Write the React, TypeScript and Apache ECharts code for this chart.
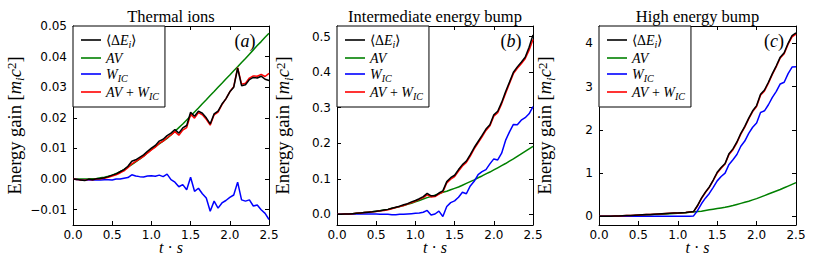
import React, { useEffect, useRef } from 'react';
import * as echarts from 'echarts';

// time grid (t·s)
const T = [0, 0.05, 0.1, 0.15, 0.2, 0.25, 0.3, 0.35, 0.4, 0.45,
  0.5, 0.55, 0.6, 0.65, 0.7, 0.75, 0.8, 0.85, 0.9, 0.95,
  1.0, 1.05, 1.1, 1.15, 1.2, 1.25, 1.3, 1.35, 1.4, 1.45,
  1.5, 1.55, 1.6, 1.65, 1.7, 1.75, 1.8, 1.85, 1.9, 1.95,
  2.0, 2.05, 2.1, 2.15, 2.2, 2.25, 2.3, 2.35, 2.4, 2.45, 2.5];

// (a) Thermal ions
const aMean = [0.0000, -0.0001, -0.0003, -0.0005, 0.0000, -0.0002, 0.0001, 0.0002, 0.0004, 0.0008,
  0.0013, 0.0017, 0.0024, 0.0031, 0.0042, 0.0058, 0.0063, 0.0071, 0.0079, 0.0091,
  0.0101, 0.0110, 0.0124, 0.0130, 0.0142, 0.0150, 0.0162, 0.0150, 0.0167, 0.0175,
  0.0218, 0.0205, 0.0222, 0.0215, 0.0200, 0.0180, 0.0213, 0.0222, 0.0245, 0.0262,
  0.0285, 0.0300, 0.0362, 0.0305, 0.0308, 0.0325, 0.0332, 0.0330, 0.0336, 0.0326, 0.0322];
const aAV = [0, 0, 0, 0, 0, 0.0001, 0.0002, 0.0004, 0.0006, 0.0009,
  0.0013, 0.0018, 0.0024, 0.0031, 0.0039, 0.0047, 0.0056, 0.0065, 0.0075, 0.0086,
  0.0097, 0.0106, 0.0115, 0.0124, 0.0133, 0.0144, 0.0156, 0.0168, 0.0180, 0.0193,
  0.0206, 0.0219, 0.0232, 0.0246, 0.0259, 0.0273, 0.0286, 0.0300, 0.0313, 0.0327,
  0.0340, 0.0354, 0.0367, 0.0381, 0.0394, 0.0408, 0.0422, 0.0436, 0.0449, 0.0463, 0.0476];
const aWIC = [0, -0.0001, -0.0003, -0.0004, -0.0002, -0.0003, -0.0002, -0.0003, -0.0002, -0.0002,
  -0.0003, 0.0000, 0.0000, 0.0003, 0.0005, 0.0014, 0.0010, 0.0008, 0.0007, 0.0010,
  0.0011, 0.0009, 0.0013, 0.0008, 0.0016, -0.0002, -0.0010, -0.0025, -0.0018, -0.0035,
  0.0006, -0.0040, -0.0030, -0.0048, -0.0062, -0.0105, -0.0072, -0.0095, -0.0078, -0.0070,
  -0.0060, -0.0052, -0.0010, -0.0068, -0.0072, -0.0068, -0.0088, -0.0085, -0.0100, -0.0112, -0.0132];
const aSum = [0.0000, -0.0001, -0.0003, -0.0004, -0.0001, -0.0002, 0.0000, 0.0001, 0.0003, 0.0006,
  0.0010, 0.0014, 0.0020, 0.0027, 0.0037, 0.0050, 0.0058, 0.0066, 0.0074, 0.0085,
  0.0095, 0.0104, 0.0117, 0.0124, 0.0135, 0.0144, 0.0155, 0.0143, 0.0160, 0.0168,
  0.0212, 0.0199, 0.0217, 0.0210, 0.0195, 0.0176, 0.0210, 0.0219, 0.0243, 0.0262,
  0.0285, 0.0302, 0.0364, 0.0310, 0.0313, 0.0330, 0.0337, 0.0336, 0.0342, 0.0335, 0.0345];

// (b) Intermediate energy bump
const bMean = [0.000, 0.000, 0.001, 0.001, 0.002, 0.003, 0.004, 0.005, 0.006, 0.007,
  0.009, 0.010, 0.012, 0.014, 0.017, 0.020, 0.023, 0.027, 0.030, 0.035,
  0.039, 0.044, 0.050, 0.059, 0.052, 0.052, 0.060, 0.066, 0.092, 0.103,
  0.110, 0.126, 0.140, 0.150, 0.168, 0.188, 0.205, 0.222, 0.240, 0.252,
  0.280, 0.290, 0.315, 0.345, 0.372, 0.400, 0.415, 0.428, 0.442, 0.470, 0.505];
const bAV = [0.000, 0.000, 0.001, 0.001, 0.002, 0.003, 0.004, 0.005, 0.006, 0.007,
  0.009, 0.010, 0.012, 0.014, 0.017, 0.019, 0.022, 0.025, 0.028, 0.031,
  0.035, 0.039, 0.043, 0.047, 0.050, 0.054, 0.058, 0.062, 0.065, 0.069,
  0.073, 0.077, 0.082, 0.087, 0.092, 0.097, 0.103, 0.108, 0.114, 0.119,
  0.125, 0.131, 0.137, 0.143, 0.150, 0.156, 0.163, 0.170, 0.177, 0.184, 0.191];
const bWIC = [0.000, 0.000, 0.000, 0.001, 0.001, 0.001, 0.001, 0.001, 0.001, 0.001,
  0.001, 0.000, 0.000, 0.000, -0.001, -0.001, 0.000, 0.000, 0.001, 0.002,
  0.003, 0.004, 0.006, 0.011, -0.002, 0.001, 0.009, -0.006, 0.022, 0.033,
  0.038, 0.048, 0.062, 0.058, 0.080, 0.093, 0.112, 0.120, 0.126, 0.142,
  0.156, 0.153, 0.172, 0.208, 0.232, 0.253, 0.252, 0.265, 0.272, 0.283, 0.303];
const bSum = [0.000, 0.000, 0.001, 0.001, 0.002, 0.003, 0.004, 0.005, 0.006, 0.007,
  0.008, 0.010, 0.011, 0.013, 0.016, 0.019, 0.022, 0.025, 0.029, 0.033,
  0.037, 0.042, 0.047, 0.055, 0.049, 0.050, 0.057, 0.063, 0.088, 0.099,
  0.106, 0.122, 0.136, 0.146, 0.164, 0.184, 0.201, 0.218, 0.236, 0.249,
  0.276, 0.286, 0.311, 0.340, 0.368, 0.396, 0.411, 0.424, 0.438, 0.462, 0.492];

// (c) High energy bump
const cMean = [0.00, 0.00, 0.00, 0.005, 0.01, 0.01, 0.015, 0.02, 0.02, 0.025,
  0.03, 0.035, 0.04, 0.045, 0.05, 0.055, 0.06, 0.065, 0.07, 0.075,
  0.08, 0.085, 0.09, 0.10, 0.11, 0.25, 0.42, 0.56, 0.68, 0.84,
  1.02, 1.13, 1.22, 1.45, 1.56, 1.72, 1.92, 2.08, 2.27, 2.44,
  2.56, 2.82, 2.92, 3.10, 3.30, 3.48, 3.68, 3.78, 4.00, 4.18, 4.24];
const cAV = [0, 0, 0, 0.002, 0.005, 0.007, 0.01, 0.012, 0.015, 0.017,
  0.02, 0.025, 0.03, 0.035, 0.04, 0.045, 0.05, 0.055, 0.06, 0.065,
  0.07, 0.078, 0.085, 0.093, 0.10, 0.11, 0.12, 0.135, 0.15, 0.165,
  0.18, 0.195, 0.21, 0.23, 0.25, 0.275, 0.30, 0.325, 0.35, 0.38,
  0.41, 0.445, 0.48, 0.515, 0.55, 0.585, 0.62, 0.66, 0.70, 0.74, 0.78];
const cWIC = [0, 0, 0, 0, 0, 0, 0, 0, 0, 0,
  0, 0, 0, 0, 0, 0, 0, 0, 0, 0,
  0, 0, 0, 0.005, 0.01, 0.13, 0.29, 0.42, 0.53, 0.67,
  0.82, 0.92, 1.00, 1.20, 1.31, 1.43, 1.62, 1.74, 1.92, 2.06,
  2.16, 2.40, 2.44, 2.58, 2.75, 2.89, 3.06, 3.10, 3.30, 3.45, 3.46];
const cSum = [0.00, 0.00, 0.00, 0.005, 0.01, 0.01, 0.015, 0.02, 0.02, 0.025,
  0.03, 0.035, 0.04, 0.045, 0.05, 0.055, 0.06, 0.065, 0.07, 0.075,
  0.08, 0.085, 0.09, 0.10, 0.11, 0.24, 0.41, 0.55, 0.67, 0.83,
  1.00, 1.11, 1.21, 1.43, 1.54, 1.70, 1.90, 2.06, 2.25, 2.42,
  2.54, 2.80, 2.90, 3.08, 3.28, 3.46, 3.66, 3.76, 3.98, 4.15, 4.21];

const A_TICKS = [-0.01, 0, 0.01, 0.02, 0.03, 0.04, 0.05];
const B_TICKS = [0, 0.1, 0.2, 0.3, 0.4, 0.5];
const C_TICKS = [0, 1, 2, 3, 4];

const TITLES = ['Thermal ions', 'Intermediate energy bump', 'High energy bump'];
const TAGS = ['a', 'b', 'c'];
const NAMES = ['⟨ΔE_i⟩', 'AV', 'W_IC', 'AV+W_IC'];
const COLORS = ['#000000', '#008000', '#0000ff', '#ff0000'];

const MATH = '"Liberation Serif", serif';
const SANS = '"DejaVu Sans", sans-serif';

const PANELS = [
  { left: 73, width: 196, yMin: -0.015, yMax: 0.05, ticks: A_TICKS, dec: 2, data: [aMean, aAV, aWIC, aSum], tagX: 245 },
  { left: 337, width: 196, yMin: -0.03, yMax: 0.53, ticks: B_TICKS, dec: 1, data: [bMean, bAV, bWIC, bSum], tagX: 511 },
  { left: 599, width: 197, yMin: -0.2, yMax: 4.4, ticks: C_TICKS, dec: 0, data: [cMean, cAV, cWIC, cSum], tagX: 774 },
];
const TOP = 26;
const HEIGHT = 199;

const mathRich = (size: number) => ({
  r: { fontFamily: MATH, fontSize: size, color: '#000', lineHeight: size },
  it: { fontFamily: MATH, fontSize: size, fontStyle: 'italic', color: '#000', lineHeight: size },
  sub: { fontFamily: MATH, fontSize: Math.round(size * 0.7), fontStyle: 'italic', color: '#000', verticalAlign: 'top', padding: [Math.round(size * 0.42), 0, 0, 0], lineHeight: Math.round(size * 0.7) },
  sup: { fontFamily: MATH, fontSize: Math.round(size * 0.7), color: '#000', verticalAlign: 'top', lineHeight: Math.round(size * 0.7) },
});

const legendLabel = (name: string) => {
  switch (name) {
    case '⟨ΔE_i⟩': return '{r|⟨Δ}{it|E}{sub|i}{r|⟩}';
    case 'AV': return '{it|AV}';
    case 'W_IC': return '{it|W}{sub|IC}';
    default: return '{it|AV}{r| + }{it|W}{sub|IC}';
  }
};

const fmtY = (dec: number) => (v: number) => {
  const neg = v < -1e-9;
  return (neg ? '\u2212' : '') + Math.abs(v).toFixed(dec);
};

export default function App() {
  const ref = useRef<HTMLDivElement>(null);
  useEffect(() => {
    if (!ref.current) return;
    const chart = echarts.init(ref.current, undefined, { renderer: 'svg' });
    const grid: any[] = [];
    const xAxis: any[] = [];
    const yAxis: any[] = [];
    const series: any[] = [];
    const legend: any[] = [];
    const title: any[] = [];
    const graphic: any[] = [];
    const axisLine = { onZero: false, lineStyle: { color: '#000', width: 1 } };
    const tick = { inside: true, length: 4, lineStyle: { color: '#000', width: 1 } };

    PANELS.forEach((p, i) => {
      grid.push({ left: p.left, top: TOP, width: p.width, height: HEIGHT, containLabel: false });
      xAxis.push({
        gridIndex: i, type: 'value', min: 0, max: 2.5, interval: 0.5, position: 'bottom',
        axisLine, axisTick: tick, splitLine: { show: false },
        axisLabel: { fontFamily: SANS, fontSize: 12, color: '#000', margin: 4, formatter: (v: number) => v.toFixed(1) },
        name: '{it|t}{r| · }{it|s}', nameLocation: 'middle', nameGap: 14, nameMoveOverlap: false,
        nameTextStyle: { rich: mathRich(16) },
      });
      xAxis.push({
        gridIndex: i, type: 'value', min: 0, max: 2.5, interval: 0.5, position: 'top',
        axisLine, axisTick: tick, splitLine: { show: false }, axisLabel: { show: false },
      });
      yAxis.push({
        gridIndex: i, type: 'value', min: p.yMin, max: p.yMax, position: 'left',
        axisLine, axisTick: { ...tick, customValues: p.ticks }, splitLine: { show: false },
        axisLabel: { customValues: p.ticks, fontFamily: SANS, fontSize: 12, color: '#000', margin: 6, formatter: fmtY(p.dec) },
        name: '{r|Energy gain [}{it|m}{sub|i}{it|c}{sup|2}{r|]}', nameLocation: 'middle', nameGap: 45, nameRotate: 90,
        nameTextStyle: { rich: mathRich(18.5) },
      });
      yAxis.push({
        gridIndex: i, type: 'value', min: p.yMin, max: p.yMax, position: 'right',
        axisLine, axisTick: { ...tick, customValues: p.ticks }, splitLine: { show: false },
        axisLabel: { show: false },
      });
      // draw order: AV, W_IC, AV+W_IC, then mean on top
      const order = [1, 2, 3, 0];
      order.forEach((k, zi) => {
        series.push({
          type: 'line', name: NAMES[k], xAxisIndex: i * 2, yAxisIndex: i * 2,
          data: T.map((t, j) => [t, p.data[k][j]]),
          symbol: 'none', showSymbol: false, z: 2 + zi,
          lineStyle: { color: COLORS[k], width: 1.5 }, itemStyle: { color: COLORS[k] },
          emphasis: { disabled: true },
        });
      });
      legend.push({
        data: NAMES, left: p.left, top: TOP, orient: 'vertical', icon: 'rect',
        padding: [7, 6, 6, 8], itemGap: 2, itemWidth: 20, itemHeight: 1.6,
        backgroundColor: '#fff', borderColor: '#000', borderWidth: 1, borderRadius: 0,
        formatter: legendLabel, textStyle: { rich: mathRich(14) }, selectedMode: false,
      });
      title.push({
        text: TITLES[i], left: p.left + p.width / 2, top: 8, textAlign: 'center', padding: 0,
        textStyle: { fontFamily: MATH, fontSize: 16.5, fontWeight: 'normal', color: '#000' },
      });
      graphic.push({
        type: 'text', x: p.tagX, y: 41, z: 100,
        style: { text: '{r|(}{it|' + TAGS[i] + '}{r|)}', rich: mathRich(18), align: 'center', verticalAlign: 'middle' },
      });
    });

    chart.setOption({
      animation: false,
      backgroundColor: '#fff',
      grid, xAxis, yAxis, series, legend, title, graphic,
    });
    return () => chart.dispose();
  }, []);
  return <div ref={ref} style={{ position: 'absolute', left: 0, top: 0, width: 817, height: 273 }} />;
}
